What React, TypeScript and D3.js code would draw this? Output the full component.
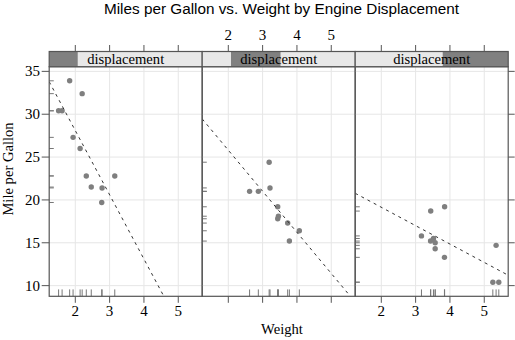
import React from "react";
import * as d3 from "d3";

const wt = [2.62, 2.875, 2.32, 3.215, 3.44, 3.46, 3.57, 3.19, 3.15, 3.44, 3.44, 4.07, 3.73, 3.78, 5.25, 5.424, 5.345, 2.2, 1.615, 1.835, 2.465, 3.52, 3.435, 3.84, 3.845, 1.935, 2.14, 1.513, 3.17, 2.77, 3.57, 2.78];
const mpg = [21.0, 21.0, 22.8, 21.4, 18.7, 18.1, 14.3, 24.4, 22.8, 19.2, 17.8, 16.4, 17.3, 15.2, 10.4, 10.4, 14.7, 32.4, 30.4, 33.9, 21.5, 15.5, 15.2, 13.3, 19.2, 27.3, 26.0, 30.4, 15.8, 19.7, 15.0, 21.4];
const disp = [160, 160, 108, 258, 360, 225, 360, 146.7, 140.8, 167.6, 167.6, 275.8, 275.8, 275.8, 472, 460, 440, 78.7, 75.7, 71.1, 120.1, 318, 304, 350, 400, 79, 120.3, 95.1, 351, 145, 301, 121];

const shingleLow = [70.6, 146.2, 300.5];
const shingleHigh = [145.5, 276.3, 472.5];
const xTicks = [2, 3, 4, 5];
const yTicks = [10, 15, 20, 25, 30, 35];

const W = 515;
const H = 340;
const left = 49.2;
const panelW = 153;
const stripTop = 51.5;
const stripH = 15.2;
const panelTop = stripTop + stripH;
const panelBottom = 296.3;

const serif = "'Liberation Serif', 'Times New Roman', serif";
const sans = "'Liberation Sans', Arial, sans-serif";
const border = "#555";
const fs = 14.6;
const tfs = 15;
const tl = 6.5;

function pad(ext: [number, number]): [number, number] {
  const r = ext[1] - ext[0];
  return [ext[0] - 0.07 * r, ext[1] + 0.07 * r];
}

export default function App() {
  const xDom = pad(d3.extent(wt) as [number, number]);
  const yDom = pad(d3.extent(mpg) as [number, number]);
  const y = d3.scaleLinear().domain(yDom).range([panelBottom, panelTop]);
  const sDom: [number, number] = [d3.min(shingleLow)!, d3.max(shingleHigh)!];

  const panels = shingleLow.map((lo, i) => {
    const x0 = left + i * panelW;
    const x = d3.scaleLinear().domain(xDom).range([x0, x0 + panelW]);
    const s = d3.scaleLinear().domain(sDom).range([x0, x0 + panelW]);
    const idx = d3.range(wt.length).filter((k) => disp[k] >= lo && disp[k] <= shingleHigh[i]);
    const xs = idx.map((k) => wt[k]);
    const ys = idx.map((k) => mpg[k]);
    const mx = d3.mean(xs)!;
    const my = d3.mean(ys)!;
    const sxy = d3.sum(xs.map((v, j) => (v - mx) * (ys[j] - my)));
    const sxx = d3.sum(xs.map((v) => (v - mx) * (v - mx)));
    const b = sxy / sxx;
    const a = my - b * mx;
    return { i, x0, x, s, idx, a, b, lo, hi: shingleHigh[i] };
  });

  return (
    <svg width={W} height={H} style={{ position: "absolute", left: 0, top: 0, background: "#fff" }}>
      <defs>
        {panels.map((p) => (
          <clipPath id={`clip${p.i}`} key={p.i}>
            <rect x={p.x0} y={panelTop} width={panelW} height={panelBottom - panelTop} />
          </clipPath>
        ))}
      </defs>
      <text x={281.5} y={14} textAnchor="middle" fontFamily={sans} fontSize={15.3} fill="#000">
        Miles per Gallon vs. Weight by Engine Displacement
      </text>
      {panels.map((p) => (
        <g key={p.i}>
          {xTicks.map((t) => (
            <line key={"gx" + t} x1={p.x(t)} x2={p.x(t)} y1={panelTop} y2={panelBottom} stroke="#e6e6e6" strokeWidth={1} />
          ))}
          {yTicks.map((t) => (
            <line key={"gy" + t} x1={p.x0} x2={p.x0 + panelW} y1={y(t)} y2={y(t)} stroke="#e6e6e6" strokeWidth={1} />
          ))}
          {p.idx.map((k) => (
            <line key={"rx" + k} x1={p.x(wt[k])} x2={p.x(wt[k])} y1={panelBottom} y2={panelBottom - 0.03 * (panelBottom - panelTop)} stroke="#777" strokeWidth={1} />
          ))}
          {p.idx.map((k) => (
            <line key={"ry" + k} x1={p.x0} x2={p.x0 + 0.03 * panelW} y1={y(mpg[k])} y2={y(mpg[k])} stroke="#777" strokeWidth={1} />
          ))}
          {p.idx.map((k) => (
            <circle key={"pt" + k} cx={p.x(wt[k])} cy={y(mpg[k])} r={2.7} fill="#7f7f7f" />
          ))}
          <line
            clipPath={`url(#clip${p.i})`}
            x1={p.x(xDom[0])}
            x2={p.x(xDom[1])}
            y1={y(p.a + p.b * xDom[0])}
            y2={y(p.a + p.b * xDom[1])}
            stroke="#333"
            strokeWidth={1}
            strokeDasharray="3,4"
          />
          <rect x={p.x0} y={panelTop} width={panelW} height={panelBottom - panelTop} fill="none" stroke={border} strokeWidth={1.2} />
          <rect x={p.x0} y={stripTop} width={panelW} height={stripH} fill="#e8e8e8" />
          <rect x={p.s(p.lo)} y={stripTop} width={p.s(p.hi) - p.s(p.lo)} height={stripH} fill="#808080" />
          <text x={p.x0 + panelW / 2} y={stripTop + stripH / 2 + 5} textAnchor="middle" fontFamily={serif} fontSize={fs} fill="#000">
            displacement
          </text>
          <rect x={p.x0} y={stripTop} width={panelW} height={stripH} fill="none" stroke={border} strokeWidth={1.2} />
          {xTicks.map((t) => (
            <line key={"bt" + t} x1={p.x(t)} x2={p.x(t)} y1={panelBottom} y2={panelBottom + tl} stroke={border} strokeWidth={1} />
          ))}
          {p.i !== 1 &&
            xTicks.map((t) => (
              <text key={"bl" + t} x={p.x(t)} y={316} textAnchor="middle" fontFamily={serif} fontSize={tfs} fill="#000">
                {t}
              </text>
            ))}
          {xTicks.map((t) => (
            <line key={"tt" + t} x1={p.x(t)} x2={p.x(t)} y1={stripTop} y2={stripTop - tl} stroke={border} strokeWidth={1} />
          ))}
          {p.i === 1 &&
            xTicks.map((t) => (
              <text key={"tl" + t} x={p.x(t)} y={40} textAnchor="middle" fontFamily={serif} fontSize={tfs} fill="#000">
                {t}
              </text>
            ))}
        </g>
      ))}
      {yTicks.map((t) => (
        <g key={"ly" + t}>
          <line x1={left - 7.5} x2={left} y1={y(t)} y2={y(t)} stroke={border} strokeWidth={1} />
          <text x={left - 9.3} y={y(t) + 5} textAnchor="end" fontFamily={serif} fontSize={tfs} fill="#000">
            {t}
          </text>
        </g>
      ))}
      {yTicks.map((t) => (
        <line key={"ry" + t} x1={left + 3 * panelW} x2={left + 3 * panelW + tl} y1={y(t)} y2={y(t)} stroke={border} strokeWidth={1} />
      ))}
      <text x={282} y={334} textAnchor="middle" fontFamily={serif} fontSize={fs} fill="#000">
        Weight
      </text>
      <text transform={`translate(12.5, 169) rotate(-90)`} textAnchor="middle" fontFamily={serif} fontSize={fs} fill="#000">
        Mile per Gallon
      </text>
    </svg>
  );
}
